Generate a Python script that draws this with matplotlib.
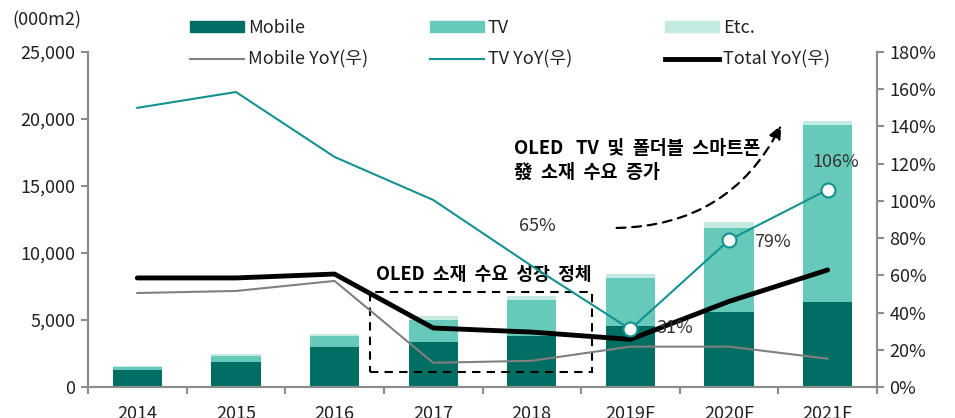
import matplotlib
matplotlib.use("Agg")
import matplotlib.pyplot as plt
from matplotlib.lines import Line2D
from matplotlib.patches import Patch, Rectangle
from matplotlib.ticker import FuncFormatter, MultipleLocator

plt.rcParams['font.family'] = ['Noto Sans CJK KR', 'DejaVu Sans']

years = ["2014", "2015", "2016", "2017", "2018", "2019F", "2020F", "2021F"]
mobile = [1270, 1890, 2960, 3360, 3800, 4530, 5600, 6340]
tv = [200, 450, 840, 1640, 2670, 3580, 6270, 13210]
etc = [100, 120, 150, 270, 320, 320, 440, 320]
mobile_yoy = [50.5, 51.6, 57.0, 13.0, 14.1, 21.7, 21.7, 15.2]
tv_yoy = [150.0, 158.5, 123.6, 100.5, 65.0, 31.0, 79.0, 106.0]
total_yoy = [58.6, 58.6, 60.7, 31.7, 29.5, 25.6, 46.0, 62.9]

c_mobile = "#006e63"
c_tv = "#66c9ba"
c_etc = "#c4eae4"
c_tvline = "#13928f"
c_grey = "#808080"
c_spine = "#8c8c8c"
c_txt = "#222222"
fs = 13

fig = plt.figure(figsize=(9.55, 4.18), dpi=100)
ax = fig.add_axes([88 / 955, 1 - 387 / 418, (877 - 88) / 955, (387 - 52) / 418])
ax2 = ax.twinx()

x = list(range(len(years)))
b1 = [m + t for m, t in zip(mobile, tv)]
ax.bar(x, mobile, width=0.5, color=c_mobile, zorder=2)
ax.bar(x, tv, width=0.5, bottom=mobile, color=c_tv, zorder=2)
ax.bar(x, etc, width=0.5, bottom=b1, color=c_etc, zorder=2)

ax.set_xlim(-0.5, 7.5)
ax.set_ylim(0, 25000)
ax.yaxis.set_major_locator(MultipleLocator(5000))
ax.yaxis.set_major_formatter(FuncFormatter(lambda v, p: f"{int(v):,}"))
ax.set_xticks(x)
ax.set_xticklabels(years)
ax.set_xticks([i - 0.5 for i in range(len(years) + 1)], minor=True)
ax.tick_params(axis='x', which='major', length=0, labelsize=fs, pad=13,
               labelcolor=c_txt)
ax.tick_params(axis='x', which='minor', length=5, color=c_spine, width=1.5)
ax.tick_params(axis='y', length=5, color=c_spine, width=1.5, labelsize=fs, pad=4,
               labelcolor=c_txt)

ax2.set_ylim(0, 180)
ax2.yaxis.set_major_locator(MultipleLocator(20))
ax2.yaxis.set_major_formatter(FuncFormatter(lambda v, p: f"{int(v)}%"))
ax2.tick_params(axis='y', length=5, color=c_spine, width=1.5, labelsize=fs, pad=4,
                labelcolor=c_txt)

for a in (ax, ax2):
    a.spines['top'].set_visible(False)
    for s in ('left', 'right', 'bottom'):
        a.spines[s].set_color(c_spine)
        a.spines[s].set_linewidth(1.5)

ax2.plot(x, mobile_yoy, color=c_grey, lw=1.5, zorder=3)
ax2.plot(x, tv_yoy, color=c_tvline, lw=1.5, zorder=3)
ax2.plot(x, total_yoy, color="black", lw=3.5, zorder=4, solid_capstyle='round')
ax2.plot(x[5:], tv_yoy[5:], ls='none', marker='o', ms=10, mfc='white',
         mec=c_tvline, mew=1.5, zorder=5)

lab_off = {4: (6, 40), 5: (44, 1), 6: (43, -2), 7: (8, 28)}
for i, (dx, dy) in lab_off.items():
    ax2.annotate(f"{tv_yoy[i]:.0f}%", (x[i], tv_yoy[i]), xytext=(dx, dy),
                 textcoords='offset pixels', ha='center', va='center',
                 fontsize=fs, color="#333333", zorder=6)

# stagnation box
ax.add_patch(Rectangle((2.36, 1120), 4.61 - 2.36, 7090 - 1120, fill=False,
                       ls=(0, (4, 3)), lw=1.5, ec='black', zorder=6))
ax.text(2.42, 8360, "OLED  소재  수요  성장  정체", fontsize=13.1, fontweight='bold',
        ha='left', va='center', zorder=6)

# growth annotation
ax.text(3.82, 18500, "OLED   TV  및  폴더블  스마트폰\n發  소재  수요  증가", fontsize=13.3,
        fontweight='bold', ha='left', va='top', linespacing=1.35, zorder=6)
ax.annotate("", xy=(6.53, 19550), xytext=(4.86, 11870),
            arrowprops=dict(arrowstyle='-|>,head_length=0.8,head_width=0.35',
                            connectionstyle='arc3,rad=0.3', color='black',
                            lw=1.6, ls=(0, (4, 3)), shrinkA=0, shrinkB=0),
            zorder=6)

fig.text(12 / 955, 1 - 20 / 418, "(000m2)", fontsize=fs, ha='left', va='center',
         color=c_txt)

cols = [
    (190, [Patch(color=c_mobile), Line2D([], [], color=c_grey, lw=1.5)],
     ["Mobile", "Mobile YoY(우)"]),
    (430, [Patch(color=c_tv), Line2D([], [], color=c_tvline, lw=1.5)],
     ["TV", "TV YoY(우)"]),
    (665, [Patch(color=c_etc), Line2D([], [], color='black', lw=3.5)],
     ["Etc.", "Total YoY(우)"]),
]
for px, hs, ls_ in cols:
    leg = fig.legend(hs, ls_, loc='upper left', bbox_to_anchor=(px / 955, 1 - 19 / 418),
                     frameon=False, fontsize=fs, borderpad=0, borderaxespad=0,
                     handlelength=3.0, handleheight=0.5, handletextpad=0.2,
                     labelspacing=0.75)
    for t in leg.get_texts():
        t.set_color(c_txt)

fig.savefig("out.png", dpi=100)
